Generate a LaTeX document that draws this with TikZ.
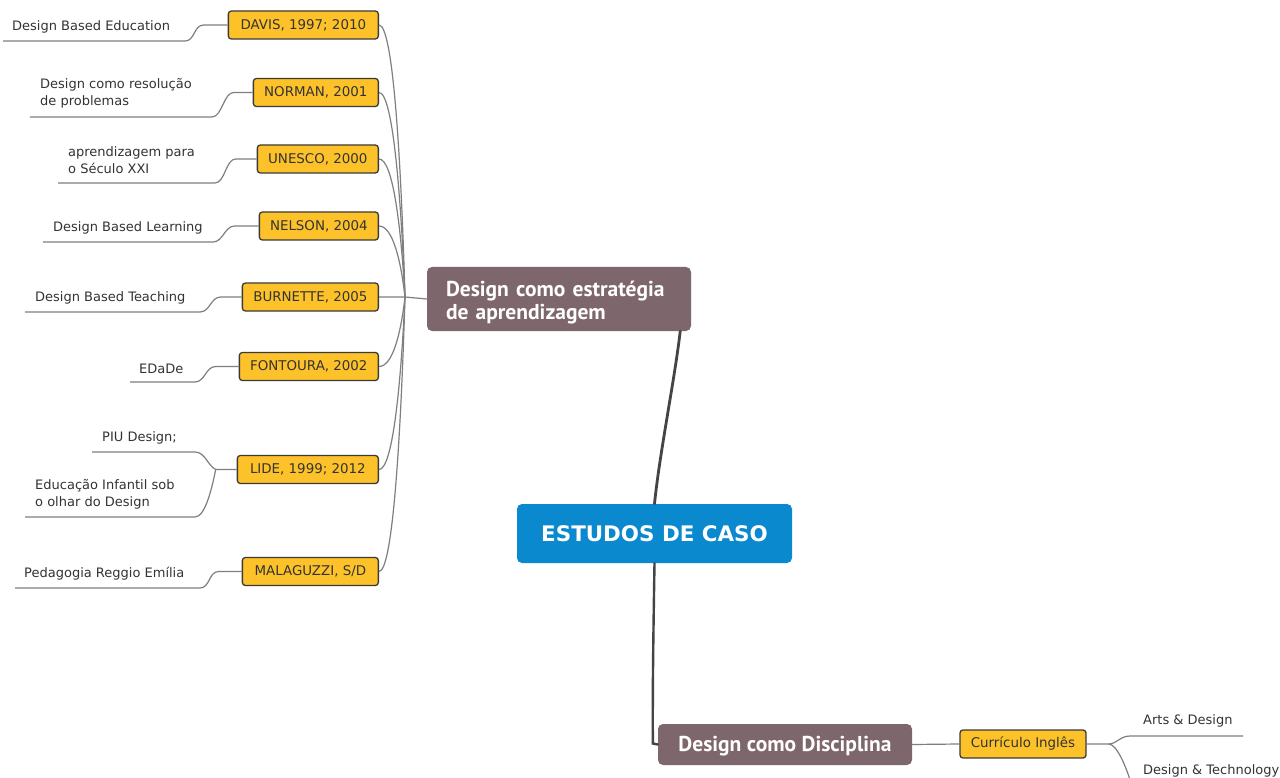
\documentclass[tikz,border=0pt]{standalone}
\usepackage{fontspec}
\setmainfont{DejaVu Sans}
\newfontfamily\ptsans{PT Sans}
\usetikzlibrary{calc}
\definecolor{refyellow}{HTML}{FDC22A}
\definecolor{boxborder}{HTML}{3A3A3A}
\definecolor{mauve}{HTML}{7E676C}
\definecolor{hubblue}{HTML}{0A89CF}
\definecolor{linegrey}{HTML}{7F7F7F}
\definecolor{txt}{HTML}{333333}
\definecolor{thick}{HTML}{444444}
\tikzset{
  refbox/.style={draw=boxborder, line width=1.3pt, fill=refyellow, rounded corners=3pt,
    inner sep=0pt, minimum height=28pt, anchor=east, text=txt,
    font=\fontsize{13.4}{15}\selectfont},
  leaf/.style={anchor=west, inner sep=0pt, align=left, text=txt,
    font=\fontsize{13}{17}\selectfont},
  leafline/.style={draw=linegrey, line width=1.2pt},
  topic/.style={fill=mauve, rounded corners=5pt, inner sep=0pt},
  topictext/.style={text=white, inner sep=0pt,
    font=\ptsans\bfseries\fontsize{21.5}{23}\selectfont},
  centralbox/.style={fill=hubblue, rounded corners=5pt, text=white, inner sep=0pt,
    minimum width=275pt, minimum height=59pt,
    font=\bfseries\fontsize{21.4}{25}\selectfont},
  trunk/.style={draw=thick, line width=2.8pt, line cap=round}
}
\begin{document}
\begin{tikzpicture}[x=1pt,y=-1pt]
\clip (0,0) rectangle (1280,778);
\fill[white] (0,0) rectangle (1280,778);

% reference boxes
\node[refbox, minimum width=150pt] (davis) at (379,25) {DAVIS, 1997; 2010};
\node[refbox, minimum width=125pt] (norman) at (379,92.5) {NORMAN, 2001};
\node[refbox, minimum width=121pt] (unesco) at (379,159) {UNESCO, 2000};
\node[refbox, minimum width=119pt] (nelson) at (379,226) {NELSON, 2004};
\node[refbox, minimum width=136pt] (burnette) at (379,297) {BURNETTE, 2005};
\node[refbox, minimum width=139pt] (fontoura) at (379,366.5) {FONTOURA, 2002};
\node[refbox, minimum width=141pt] (lide) at (379,469.5) {LIDE, 1999; 2012};
\node[refbox, minimum width=136pt] (malaguzzi) at (379,571.5) {MALAGUZZI, S/D};

% leaf texts
\node[leaf] (t1) at (12,26.5) {Design Based Education};
\node[leaf] (t2) at (40,93.5) {Design como resolução\\de problemas};
\node[leaf] (t3) at (68,160.5) {aprendizagem para\\o Século XXI};
\node[leaf] (t4) at (53,227.5) {Design Based Learning};
\node[leaf] (t5) at (35,297.5) {Design Based Teaching};
\node[leaf] (t6) at (139,368.5) {EDaDe};
\node[leaf] (t7a) at (102,437.5) {PIU Design;};
\node[leaf] (t7b) at (35,494.5) {Educação Infantil sob\\o olhar do Design};
\node[leaf] (t8) at (24,573.5) {Pedagogia Reggio Emília};

% underline coordinates
\coordinate (u1a) at (3,41);   \coordinate (u1b) at (185,41);
\coordinate (u2a) at (30,117); \coordinate (u2b) at (212,117);
\coordinate (u3a) at (58,183); \coordinate (u3b) at (215,183);
\coordinate (u4a) at (43,242); \coordinate (u4b) at (213,242);
\coordinate (u5a) at (25,312); \coordinate (u5b) at (200,312);
\coordinate (u6a) at (130,382); \coordinate (u6b) at (195,382);
\coordinate (u7a) at (92,452); \coordinate (u7b) at (195,452);
\coordinate (u7c) at (25,517); \coordinate (u7d) at (195,517);
\coordinate (u8a) at (15,588); \coordinate (u8b) at (200,588);

\coordinate (k1) at ($(davis.west)+(-24,0)$);
\coordinate (k2) at ($(norman.west)+(-19,0)$);
\coordinate (k3) at ($(unesco.west)+(-21,0)$);
\coordinate (k4) at ($(nelson.west)+(-24,0)$);
\coordinate (k5) at ($(burnette.west)+(-21,0)$);
\coordinate (k6) at ($(fontoura.west)+(-23,0)$);
\coordinate (k7) at ($(lide.west)+(-21,0)$);
\coordinate (k8) at ($(malaguzzi.west)+(-23,0)$);

\draw[leafline] (u1a) -- (u1b) .. controls +(10,0) and +(-10,0) .. (k1) -- (davis.west);
\draw[leafline] (u2a) -- (u2b) .. controls +(10,0) and +(-10,0) .. (k2) -- (norman.west);
\draw[leafline] (u3a) -- (u3b) .. controls +(10,0) and +(-10,0) .. (k3) -- (unesco.west);
\draw[leafline] (u4a) -- (u4b) .. controls +(10,0) and +(-10,0) .. (k4) -- (nelson.west);
\draw[leafline] (u5a) -- (u5b) .. controls +(10,0) and +(-10,0) .. (k5) -- (burnette.west);
\draw[leafline] (u6a) -- (u6b) .. controls +(10,0) and +(-10,0) .. (k6) -- (fontoura.west);
\draw[leafline] (u7a) -- (u7b) .. controls +(10,0) and +(-8,-4) .. (k7) -- (lide.west);
\draw[leafline] (u7c) -- (u7d) .. controls +(10,0) and +(-4,20) .. (k7);
\draw[leafline] (u8a) -- (u8b) .. controls +(10,0) and +(-10,0) .. (k8) -- (malaguzzi.west);

% topic node and hub
\node[topic, minimum width=264pt, minimum height=64pt] (strat) at (559,299) {};
\node[topictext, text width=226pt, align=left] (strattext) at ($(strat.center)+(0,3.5)$) {Design como estratégia\\de aprendizagem};
\coordinate (hub) at (405,297);

\draw[leafline] (davis.east) .. controls +(14,0) and +(-4,-140) .. (hub);
\draw[leafline] (norman.east) .. controls +(14,0) and +(-4,-100) .. (hub);
\draw[leafline] (unesco.east) .. controls +(14,0) and +(-4,-70) .. (hub);
\draw[leafline] (nelson.east) .. controls +(14,0) and +(-4,-35) .. (hub);
\draw[leafline] (burnette.east) -- (hub) -- (strat.west);
\draw[leafline] (fontoura.east) .. controls +(14,0) and +(-4,35) .. (hub);
\draw[leafline] (lide.east) .. controls +(14,0) and +(-4,85) .. (hub);
\draw[leafline] (malaguzzi.east) .. controls +(14,0) and +(-4,135) .. (hub);

% central
\node[centralbox] (central) at (654.5,533.5) {ESTUDOS DE CASO};
\coordinate (sb) at ($(strat.south east)+(-11,0)$);
\draw[trunk] (central.north) .. controls +(5,-50) and +(-5,45) .. (sb);

% disciplina branch
\node[topic, minimum width=254pt, minimum height=41pt] (disc) at (785,744.5) {};
\node[topictext] (disctext) at ($(disc.center)+(0,2)$) {Design como Disciplina};
\coordinate (dl) at ($(disc.west)+(-5,-1)$);
\draw[trunk, line width=2.4pt] (central.south) .. controls +(-2,120) and +(0,-40) .. (dl) -- (disc.west);

\node[refbox, anchor=center, minimum width=126pt] (cur) at (1023,744) {Currículo Inglês};
\draw[leafline] (disc.east) -- (cur.west);

\coordinate (cj) at ($(cur.east)+(22,0)$);
\coordinate (ua) at (1130,736); \coordinate (ub) at (1243,736);
\coordinate (uc) at (1132,786); \coordinate (ud) at (1280,786);
\node[leaf] (arts) at (1143,721) {Arts \& Design};
\node[leaf] (tech) at (1143,771) {Design \& Technology};
\draw[leafline] (cur.east) -- (cj) .. controls +(8,0) and +(-10,0) .. (ua) -- (ub);
\draw[leafline] (cj) .. controls +(8,0) and +(-6,-20) .. (uc) -- (ud);
\end{tikzpicture}
\end{document}
